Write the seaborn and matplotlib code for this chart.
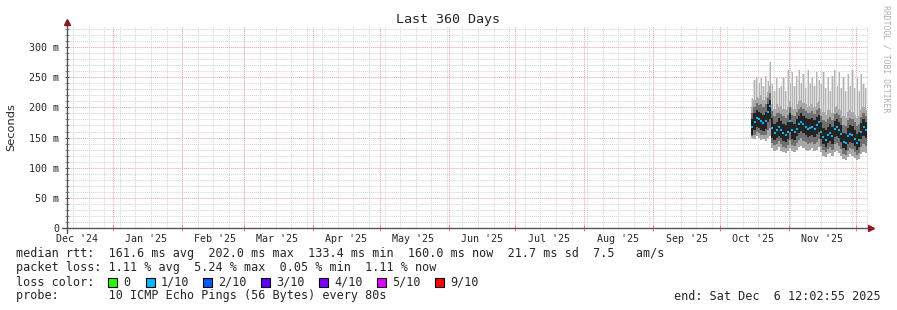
import numpy as np
import pandas as pd
import matplotlib
matplotlib.use("Agg")
import matplotlib.pyplot as plt
import matplotlib.dates as mdates
import seaborn as sns
from matplotlib.lines import Line2D
from matplotlib.patches import Rectangle

sns.set_theme(style="white")
plt.rcParams["font.family"] = ["DejaVu Sans Mono", "DejaVu Sans"]

# ---------------- data (ms), one value per day from 2025-10-15 ----------------
first_day = "2025-10-15"
median_ms = [168, 175, 182, 180, 177, 174, 178, 192, 202, 166, 158, 162, 167, 162, 157, 154,
             160, 178, 162, 159, 165, 172, 176, 172, 168, 165, 166, 167, 165, 170, 175, 160,
             151, 146, 154, 157, 152, 165, 167, 162, 156, 143, 141, 152, 156, 154, 148, 141,
             146, 160, 167, 162]
max_ms = [215, 245, 250, 240, 248, 235, 252, 244, 275, 238, 228, 248, 232, 236, 250, 228,
          262, 240, 258, 236, 252, 262, 240, 255, 232, 262, 240, 250, 236, 258, 245, 238,
          258, 232, 250, 228, 252, 262, 236, 258, 232, 250, 228, 256, 236, 262, 232, 248,
          228, 255, 238, 232]
upper_ms = [200, 212, 218, 215, 220, 212, 218, 225, 235, 205, 198, 205, 200, 202, 198, 195,
            200, 210, 200, 198, 205, 210, 212, 208, 205, 200, 203, 205, 200, 208, 210, 198,
            192, 188, 195, 196, 190, 200, 202, 198, 195, 185, 182, 192, 195, 193, 188, 182,
            186, 195, 200, 196]
core_hi_ms = [180, 190, 195, 193, 190, 188, 192, 205, 212, 182, 172, 176, 182, 177, 172, 170,
              175, 190, 176, 173, 180, 186, 190, 186, 182, 180, 180, 182, 179, 184, 188, 175,
              166, 162, 168, 172, 167, 178, 181, 176, 171, 158, 156, 166, 171, 169, 163, 156,
              160, 174, 180, 176]
core_lo_ms = [155, 162, 168, 166, 163, 161, 165, 176, 180, 150, 146, 149, 153, 149, 144, 142,
              147, 160, 148, 146, 152, 158, 161, 158, 154, 151, 152, 154, 151, 156, 160, 147,
              139, 135, 141, 144, 140, 151, 153, 149, 143, 132, 130, 139, 143, 141, 136, 130,
              134, 147, 153, 149]
min_ms = [150, 148, 152, 150, 146, 148, 145, 150, 152, 132, 128, 130, 134, 128, 126, 125,
          128, 132, 128, 126, 130, 134, 136, 132, 130, 128, 130, 132, 128, 130, 134, 126,
          120, 118, 122, 124, 120, 126, 128, 124, 120, 115, 113, 118, 122, 120, 116, 113,
          115, 122, 126, 124]

y_tick_values = [0, 50, 100, 150, 200, 250, 300]
y_tick_labels = ["0", "50 m", "100 m", "150 m", "200 m", "250 m", "300 m"]
month_labels = ["Dec '24", "Jan '25", "Feb '25", "Mar '25", "Apr '25", "May '25",
                "Jun '25", "Jul '25", "Aug '25", "Sep '25", "Oct '25", "Nov '25"]

loss_labels = ["0", "1/10", "2/10", "3/10", "4/10", "5/10", "9/10"]
loss_colors = ["#26ff00", "#00b8ff", "#0059ff", "#5e00ff", "#7e00ff", "#dd00ff", "#ff0000"]

stats_line1 = "median rtt:  161.6 ms avg  202.0 ms max  133.4 ms min  160.0 ms now  21.7 ms sd  7.5   am/s"
stats_line2 = "packet loss: 1.11 % avg  5.24 % max  0.05 % min  1.11 % now"
probe_line = "probe:       10 ICMP Echo Pings (56 Bytes) every 80s"
end_line = "end: Sat Dec  6 12:02:55 2025"

# ---------------- figure ----------------
W, H = 897, 310
fig = plt.figure(figsize=(W / 100, H / 100), dpi=100, facecolor="white")
ax = fig.add_axes([67 / W, 1 - 228 / H, 801 / W, 202 / H])
ax.set_facecolor("white")

t_end = pd.Timestamp("2025-12-06 12:02:55")
t_start = t_end - pd.Timedelta(days=360)
ax.set_xlim(mdates.date2num(t_start), mdates.date2num(t_end))
ax.set_ylim(0, 335)

# grid
dot = (0, (1, 1))
for v in range(10, 335, 10):
    if v % 50:
        ax.axhline(v, color="#d2d2d2", lw=0.7, ls=dot, zorder=0)
for v in range(50, 335, 50):
    ax.axhline(v, color="#eea0a0", lw=0.7, ls=dot, zorder=0.5)
weeks = pd.date_range("2024-12-14 06:00", t_end, freq="7D")
for w in weeks:
    ax.axvline(mdates.date2num(w), color="#d2d2d2", lw=0.7, ls=dot, zorder=0)
month_starts = pd.date_range("2025-01-01", t_end, freq="MS")
for m in month_starts:
    ax.axvline(mdates.date2num(m), color="#eea0a0", lw=0.7, ls=dot, zorder=0.5)

# smoke
days = pd.date_range(first_day, periods=len(median_ms), freq="D")
xn = mdates.date2num(days)
mn = np.array(min_ms); mx = np.array(max_ms); up = np.array(upper_ms)
clo = np.array(core_lo_ms); chi = np.array(core_hi_ms)
ax.bar(xn, mx - mn, bottom=mn, width=1.0, color="#dcdcdc", linewidth=0, zorder=2, align="edge")
ax.bar(xn + 0.35, mx - mn, bottom=mn, width=0.45, color="#b4b4b4", linewidth=0, zorder=2.2, align="edge")
ax.bar(xn, up - mn, bottom=mn, width=1.0, color="#a8a8a8", linewidth=0, zorder=3, align="edge")
ax.bar(xn, (up + chi) / 2 - (mn + clo) / 2, bottom=(mn + clo) / 2, width=1.0,
       color="#707070", linewidth=0, zorder=3.5, align="edge")
ax.bar(xn, chi - clo, bottom=clo, width=1.0, color="#242424", linewidth=0, zorder=4, align="edge")

med_df = pd.DataFrame({"x": xn + 0.5, "median": median_ms})
sns.scatterplot(data=med_df, x="x", y="median", marker="s", s=3, color="#00b8ff",
                linewidth=0, ax=ax, zorder=5, legend=False)

# axes / ticks
for sp in ax.spines.values():
    sp.set_visible(False)
ax.set_xlabel("")
ax.set_ylabel("")
ax.set_yticks(y_tick_values)
ax.set_yticklabels(y_tick_labels, fontsize=7.2)
ax.set_yticks(range(10, 335, 10), minor=True)
ax.tick_params(axis="y", which="major", length=3, width=0.7, color="#555555",
               direction="inout", pad=4, left=True)
ax.tick_params(axis="y", which="minor", length=3, width=0.6, color="#777777",
               direction="inout", left=True)
mids = [mdates.date2num(pd.Timestamp("2024-12-16"))] + \
       [mdates.date2num(m + pd.Timedelta(days=15)) for m in pd.date_range("2025-01-01", periods=11, freq="MS")]
ax.set_xticks(mids)
ax.set_xticklabels(month_labels, fontsize=7.2)
ax.set_xticks([mdates.date2num(m) for m in month_starts], minor=True)
ax.tick_params(axis="x", which="major", length=0, pad=4, bottom=True)
ax.tick_params(axis="x", which="minor", length=4, width=0.7, color="#e08080",
               direction="inout", bottom=True)

# axis lines with arrows
axis_col = "#555555"
fig.add_artist(Line2D([67 / W, 67 / W], [1 - 233 / H, 1 - 23 / H], color=axis_col, lw=1.0,
                      transform=fig.transFigure))
fig.add_artist(Line2D([62 / W, 869 / W], [1 - 228 / H, 1 - 228 / H], color=axis_col, lw=1.0,
                      transform=fig.transFigure))
fig.add_artist(Line2D([67 / W], [1 - 22 / H], marker="^", markersize=4.5, color="#8b1a1a",
                      transform=fig.transFigure, linestyle="none"))
fig.add_artist(Line2D([871 / W], [1 - 228 / H], marker=">", markersize=4.5, color="#8b1a1a",
                      transform=fig.transFigure, linestyle="none"))

# texts
fig.text(448 / W, 1 - 19 / H, "Last 360 Days", ha="center", va="center", fontsize=9.6)
fig.text(11 / W, 1 - 127 / H, "Seconds", rotation=90, ha="center", va="center",
         family="DejaVu Sans", fontsize=8.2)
fig.text(886 / W, 1 - 5 / H, "RRDTOOL / TOBI OETIKER", rotation=-90, ha="center", va="top",
         fontsize=5.9, color="#b0b0b0")

fs = 8.5
fig.text(16 / W, 1 - 254 / H, stats_line1, ha="left", va="center", fontsize=fs)
fig.text(16 / W, 1 - 268 / H, stats_line2, ha="left", va="center", fontsize=fs)
fig.text(16 / W, 1 - 282 / H, "loss color:", ha="left", va="center", fontsize=fs)
box_x = [108, 146, 203, 261, 319, 377, 435]
for bx, lab, col in zip(box_x, loss_labels, loss_colors):
    fig.add_artist(Rectangle((bx / W, 1 - 287 / H), 9 / W, 9 / H, facecolor=col,
                             edgecolor="black", lw=0.8, transform=fig.transFigure))
    fig.text((bx + 15) / W, 1 - 282 / H, lab, ha="left", va="center", fontsize=fs)
fig.text(16 / W, 1 - 296 / H, probe_line, ha="left", va="center", fontsize=fs)
fig.text(881 / W, 1 - 296 / H, end_line, ha="right", va="center", fontsize=fs)

fig.savefig("out.png", dpi=100, facecolor="white")
